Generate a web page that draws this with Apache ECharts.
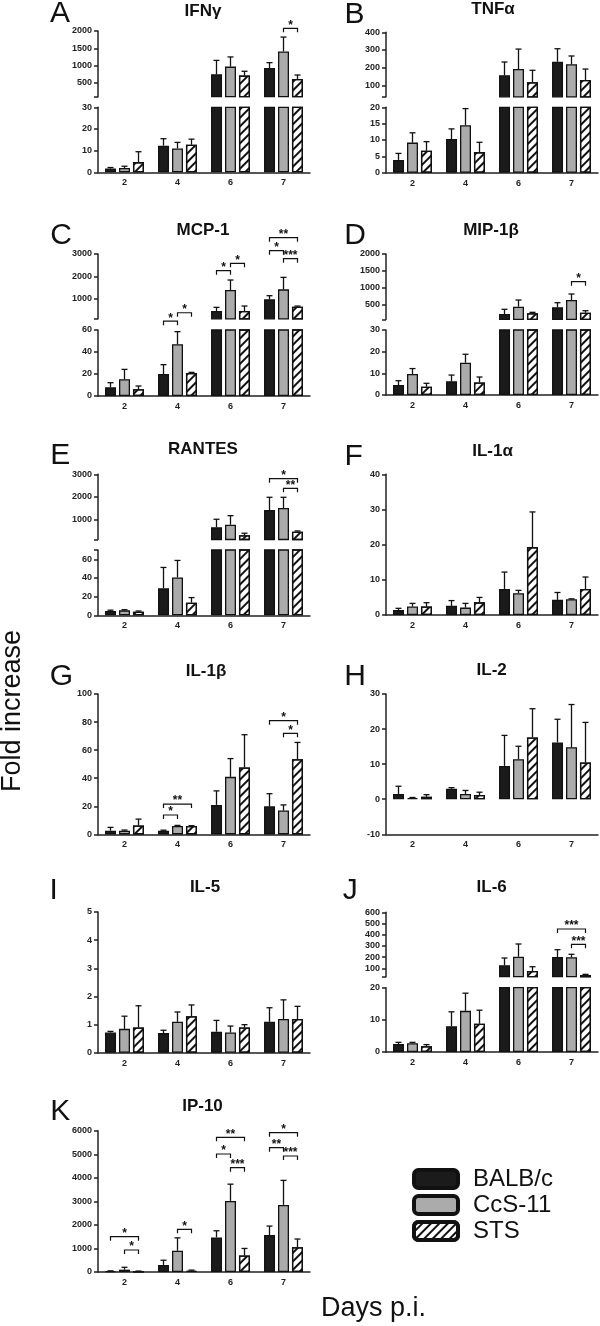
<!DOCTYPE html>
<html><head><meta charset="utf-8">
<script src="https://cdn.jsdelivr.net/npm/echarts@6/dist/echarts.min.js"></script>
<style>html,body{margin:0;padding:0;background:#fff}#c{width:600px;height:1326px}</style>
</head><body><div id="c"></div>
<script>
const days = ['2', '4', '6', '7'];
const groups = ['BALB/c', 'CcS-11', 'STS'];

// A IFNγ
const ifngBalb = [1.8, 12.3, 750, 930];
const ifngBalbSem = [0.4, 3.2, 400, 155];
const ifngCcs = [2.0, 11.0, 970, 1410];
const ifngCcsSem = [0.8, 2.8, 280, 415];
const ifngSts = [4.7, 12.7, 710, 612];
const ifngStsSem = [4.8, 2.6, 125, 115];
const ifngSig = [[3, 1, 2, 2078, 1]];
// B TNFα
const tnfBalb = [3.9, 10.3, 157, 233];
const tnfBalbSem = [2.0, 3.1, 75, 74];
const tnfCcs = [9.2, 14.5, 192, 219];
const tnfCcsSem = [3.0, 5.1, 113, 47];
const tnfSts = [6.7, 6.3, 117, 130];
const tnfStsSem = [2.8, 3.0, 68, 62];
const tnfSig = [];
// C MCP-1
const mcpBalb = [7.9, 20, 450, 970];
const mcpBalbSem = [4.2, 8.5, 162, 164];
const mcpCcs = [15.2, 47, 1388, 1418];
const mcpCcsSem = [9, 11.5, 448, 537];
const mcpSts = [6.1, 21, 448, 640];
const mcpStsSem = [3, 0.5, 224, 30];
const mcpSig = [[1, 0, 1, 68, 1], [1, 1, 2, 75.7, 1], [2, 0, 1, 2253, 1], [2, 1, 2, 2584, 1], [3, 0, 2, 3729, 2], [3, 0, 1, 3148, 1], [3, 1, 2, 2790, 3]];
// D MIP-1β
const mipBalb = [4.6, 6.3, 211, 411];
const mipBalbSem = [2.0, 2.9, 140, 137];
const mipCcs = [9.7, 14.9, 428, 628];
const mipCcsSem = [2.5, 3.9, 200, 179];
const mipSts = [3.8, 5.8, 232, 250];
const mipStsSem = [1.6, 2.5, 29, 59];
const mipSig = [[3, 1, 2, 1174, 1]];
// E RANTES
const ranBalb = [4.6, 28.9, 644, 1413];
const ranBalbSem = [0.9, 22.4, 356, 565];
const ranCcs = [5.3, 40.6, 760, 1502];
const ranCcsSem = [0.7, 18.2, 400, 476];
const ranSts = [3.9, 13.5, 289, 450];
const ranStsSem = [0.7, 5.5, 89, 30];
const ranSig = [[3, 0, 2, 2804, 1], [3, 1, 2, 2378, 2]];
// F IL-1α
const il1aBalb = [1.4, 2.6, 7.4, 4.3];
const il1aBalbSem = [0.5, 1.5, 4.8, 2.1];
const il1aCcs = [2.4, 2.1, 6.2, 4.5];
const il1aCcsSem = [0.9, 1.2, 0.8, 0.1];
const il1aSts = [2.4, 3.6, 19.3, 7.4];
const il1aStsSem = [1.1, 1.4, 10, 3.4];
const il1aSig = [];
// G IL-1β
const il1bBalb = [2.6, 2.6, 21, 20];
const il1bBalbSem = [2.4, 0.4, 10, 9];
const il1bCcs = [2.6, 6, 41, 17];
const il1bCcsSem = [0.5, 0.4, 13, 4];
const il1bSts = [6.4, 6, 47.6, 53.5];
const il1bStsSem = [4.5, 0.2, 23.4, 12];
const il1bSig = [[1, 0, 1, 13.8, 1], [1, 0, 2, 21.6, 2], [3, 0, 2, 81, 1], [3, 1, 2, 72, 1]];
// H IL-2
const il2Balb = [1.5, 3.0, 9.5, 16.2];
const il2BalbSem = [2.2, 0.3, 8.7, 6.6];
const il2Ccs = [0.3, 1.5, 11.4, 14.8];
const il2CcsSem = [0.2, 1.0, 3.7, 12.2];
const il2Sts = [0.7, 1.2, 17.6, 10.5];
const il2StsSem = [0.6, 0.8, 8.2, 11.4];
const il2Sig = [];
// I IL-5
const il5Balb = [0.72, 0.7, 0.75, 1.1];
const il5BalbSem = [0.04, 0.1, 0.4, 0.5];
const il5Ccs = [0.85, 1.1, 0.72, 1.2];
const il5CcsSem = [0.45, 0.35, 0.23, 0.68];
const il5Sts = [0.9, 1.3, 0.9, 1.2];
const il5StsSem = [0.77, 0.4, 0.1, 0.45];
const il5Sig = [];
// J IL-6
const il6Balb = [2.5, 8, 127, 201];
const il6BalbSem = [0.5, 4.5, 65, 65];
const il6Ccs = [2.7, 12.8, 204, 198];
const il6CcsSem = [0.3, 5.5, 113, 27];
const il6Sts = [1.8, 8.8, 76, 40];
const il6StsSem = [0.5, 4.2, 38, 6];
const il6Sig = [[3, 0, 2, 451, 3], [3, 1, 2, 314, 3]];
// K IP-10
const ipBalb = [30, 300, 1470, 1570];
const ipBalbSem = [20, 200, 280, 380];
const ipCcs = [100, 900, 3020, 2850];
const ipCcsSem = [100, 550, 710, 1040];
const ipSts = [20, 50, 700, 1050];
const ipStsSem = [20, 30, 300, 350];
const ipSig = [[0, 0, 2, 1499, 1], [0, 1, 2, 934, 1], [1, 1, 2, 1813, 1], [2, 0, 2, 5720, 2], [2, 0, 1, 5011, 1], [2, 1, 2, 4429, 3], [3, 0, 2, 5915, 1], [3, 0, 1, 5278, 2], [3, 1, 2, 4926, 3]];

const FONT = '"Liberation Sans", Arial, sans-serif';
const OFF = [-14, 0, 14];
const COLORS = ['#1b1b1b', '#ababab', '#ffffff'];
const hatch = { symbol: 'rect', symbolSize: 1, dashArrayX: [1, 0], dashArrayY: [2, 4], rotation: -Math.PI / 4, color: '#111' };

const panels = [
  { letter: 'A', title: 'IFNγ', col: 0, lx: 60, ly: 14, tx: 203, ty: 11, means: [ifngBalb, ifngCcs, ifngSts], sems: [ifngBalbSem, ifngCcsSem, ifngStsSem], sig: ifngSig,
    low: { top: 107.3, bottom: 172.3, min: 0, max: 30, interval: 10 },
    up: { top: 31, bottom: 96.7, min: 100, max: 2000, labels: [500, 1000, 1500, 2000] } },
  { letter: 'B', title: 'TNFα', col: 1, lx: 354.5, ly: 14.5, tx: 493, ty: 9, means: [tnfBalb, tnfCcs, tnfSts], sems: [tnfBalbSem, tnfCcsSem, tnfStsSem], sig: tnfSig,
    low: { top: 107.3, bottom: 172.7, min: 0, max: 20, interval: 5 },
    up: { top: 32.3, bottom: 96.8, min: 35, max: 400, labels: [100, 200, 300, 400] } },
  { letter: 'C', title: 'MCP-1', col: 0, lx: 61, ly: 236, tx: 203, ty: 230, means: [mcpBalb, mcpCcs, mcpSts], sems: [mcpBalbSem, mcpCcsSem, mcpStsSem], sig: mcpSig,
    low: { top: 330, bottom: 396, min: 0, max: 60, interval: 20 },
    up: { top: 254, bottom: 318.8, min: 100, max: 3000, labels: [1000, 2000, 3000] } },
  { letter: 'D', title: 'MIP-1β', col: 1, lx: 355, ly: 236, tx: 491, ty: 230, means: [mipBalb, mipCcs, mipSts], sems: [mipBalbSem, mipCcsSem, mipStsSem], sig: mipSig,
    low: { top: 330, bottom: 395, min: 0, max: 30, interval: 10 },
    up: { top: 254, bottom: 319.4, min: 50, max: 2000, labels: [500, 1000, 1500, 2000] } },
  { letter: 'E', title: 'RANTES', col: 0, lx: 60.3, ly: 456, tx: 203, ty: 449, means: [ranBalb, ranCcs, ranSts], sems: [ranBalbSem, ranCcsSem, ranStsSem], sig: ranSig,
    low: { top: 550, bottom: 615.3, min: 0, max: 70, labels: [0, 20, 40, 60] },
    up: { top: 474.3, bottom: 539.5, min: 100, max: 3000, labels: [1000, 2000, 3000] } },
  { letter: 'F', title: 'IL-1α', col: 1, lx: 353.7, ly: 456.7, tx: 492.5, ty: 451, means: [il1aBalb, il1aCcs, il1aSts], sems: [il1aBalbSem, il1aCcsSem, il1aStsSem], sig: il1aSig,
    low: { top: 474.3, bottom: 615, min: 0, max: 40, interval: 10 } },
  { letter: 'G', title: 'IL-1β', col: 0, lx: 61.3, ly: 676.7, tx: 206, ty: 671, means: [il1bBalb, il1bCcs, il1bSts], sems: [il1bBalbSem, il1bCcsSem, il1bStsSem], sig: il1bSig,
    low: { top: 694, bottom: 834.4, min: 0, max: 100, interval: 20 } },
  { letter: 'H', title: 'IL-2', col: 1, lx: 355, ly: 676.7, tx: 491.7, ty: 670, means: [il2Balb, il2Ccs, il2Sts], sems: [il2BalbSem, il2CcsSem, il2StsSem], sig: il2Sig,
    low: { top: 694, bottom: 834.3, min: -10, max: 30, interval: 10 } },
  { letter: 'I', title: 'IL-5', col: 0, lx: 53.7, ly: 890.8, tx: 205, ty: 887.5, means: [il5Balb, il5Ccs, il5Sts], sems: [il5BalbSem, il5CcsSem, il5StsSem], sig: il5Sig,
    low: { top: 912, bottom: 1052.8, min: 0, max: 5, interval: 1 } },
  { letter: 'J', title: 'IL-6', col: 1, lx: 350.3, ly: 890.8, tx: 491.7, ty: 887.5, means: [il6Balb, il6Ccs, il6Sts], sems: [il6BalbSem, il6CcsSem, il6StsSem], sig: il6Sig,
    low: { top: 987.7, bottom: 1052, min: 0, max: 20, interval: 10 },
    up: { top: 912.3, bottom: 976.7, min: 25, max: 600, labels: [100, 200, 300, 400, 500, 600] } },
  { letter: 'K', title: 'IP-10', col: 0, lx: 60.3, ly: 1111.7, tx: 202.5, ty: 1106, means: [ipBalb, ipCcs, ipSts], sems: [ipBalbSem, ipCcsSem, ipStsSem], sig: ipSig,
    low: { top: 1130.7, bottom: 1272, min: 0, max: 6000, interval: 1000 } }
];

const grids = [], xAxes = [], yAxes = [], series = [], graphics = [];
const axisColor = '#222';

function addSegment(p, seg, isLower) {
  const gi = grids.length;
  const left = p.col ? 386 : 98;
  const lowMax = p.low.max;
  const inSeg = v => (!p.up) ? true : (isLower ? v <= lowMax : v > lowMax);
  grids.push({ left: left, top: seg.top, width: 212, height: seg.bottom - seg.top });
  xAxes.push({
    gridIndex: gi, type: 'category', data: days, show: isLower,
    axisLine: { onZero: false, lineStyle: { color: axisColor, width: 1.5 } },
    axisTick: { alignWithLabel: true, length: 3, lineStyle: { color: axisColor, width: 1.5 } },
    axisLabel: { fontSize: 9, fontWeight: 'bold', color: axisColor, margin: 6, fontFamily: FONT }
  });
  const y = {
    gridIndex: gi, type: 'value', min: seg.min, max: seg.max, splitLine: { show: false },
    axisLine: { show: true, lineStyle: { color: axisColor, width: 1.5 } },
    axisTick: { show: true, length: 4, lineStyle: { color: axisColor, width: 1.5 } },
    axisLabel: { fontSize: 9, fontWeight: 'bold', color: axisColor, margin: 6, fontFamily: FONT, formatter: v => String(v) }
  };
  if (seg.interval) y.interval = seg.interval;
  if (seg.labels) {
    y.axisLabel.customValues = seg.labels;
    y.axisTick.customValues = [seg.min].concat(seg.labels).concat(seg.labels.indexOf(seg.max) < 0 ? [seg.max] : []);
  }
  yAxes.push(y);
  for (let k = 0; k < 3; k++) {
    const it = { color: COLORS[k], borderColor: '#111', borderWidth: 1.3 };
    if (k === 2) it.decal = hatch;
    series.push({
      type: 'bar', name: groups[k], xAxisIndex: gi, yAxisIndex: gi,
      data: p.means[k].map(v => (isLower || inSeg(v)) ? v : '-'),
      barWidth: 11, barGap: '27%', itemStyle: it, silent: true, animation: false
    });
  }
  const errData = [];
  for (let k = 0; k < 3; k++) {
    p.means[k].forEach((v, i) => { if (inSeg(v)) errData.push([i, v, p.sems[k][i], k]); });
  }
  series.push({
    type: 'custom', xAxisIndex: gi, yAxisIndex: gi, data: errData, silent: true, animation: false, z: 3,
    encode: { x: 0, y: 1 },
    renderItem: function (params, api) {
      const a = api.coord([api.value(0), api.value(1)]);
      const b = api.coord([api.value(0), api.value(1) + api.value(2)]);
      const x = a[0] + OFF[api.value(3)];
      const st = { stroke: '#111', lineWidth: 1.3 };
      return { type: 'group', children: [
        { type: 'line', shape: { x1: x, y1: a[1], x2: x, y2: b[1] }, style: st },
        { type: 'line', shape: { x1: x - 3, y1: b[1], x2: x + 3, y2: b[1] }, style: st }
      ] };
    }
  });
  const sigData = p.sig.filter(s => {
    const lowOK = p.means[s[1]][s[0]] <= lowMax && p.means[s[2]][s[0]] <= lowMax;
    return !p.up || (isLower ? lowOK : !lowOK);
  });
  if (sigData.length) {
    series.push({
      type: 'custom', xAxisIndex: gi, yAxisIndex: gi, data: sigData, silent: true, animation: false, z: 4,
      encode: { x: 0, y: 3 },
      renderItem: function (params, api) {
        const c = api.coord([api.value(0), api.value(3)]);
        const x1 = c[0] + OFF[api.value(1)], x2 = c[0] + OFF[api.value(2)], y0 = c[1];
        const stars = '*'.repeat(api.value(4));
        return { type: 'group', children: [
          { type: 'polyline', shape: { points: [[x1, y0 + 4], [x1, y0], [x2, y0], [x2, y0 + 4]] }, style: { stroke: '#111', lineWidth: 1.2, fill: null } },
          { type: 'text', x: (x1 + x2) / 2, y: y0 - 3, style: { text: stars, fontSize: 12, fontWeight: 'bold', fontFamily: FONT, fill: '#111', align: 'center', verticalAlign: 'middle' } }
        ] };
      }
    });
  }
}

panels.forEach(p => {
  addSegment(p, p.low, true);
  if (p.up) addSegment(p, p.up, false);
  graphics.push({ type: 'text', x: p.lx, y: p.ly, style: { text: p.letter, fontSize: 30, fontFamily: FONT, fill: '#111', align: 'center', verticalAlign: 'middle' } });
  graphics.push({ type: 'text', x: p.tx, y: p.ty, style: { text: p.title, fontSize: 17, fontWeight: 'bold', fontFamily: FONT, fill: '#111', align: 'center', verticalAlign: 'middle' } });
});
graphics.push({ type: 'text', x: 13, y: 711, rotation: Math.PI / 2, style: { text: 'Fold increase', fontSize: 27, fontFamily: FONT, fill: '#111', align: 'center', verticalAlign: 'middle' } });
graphics.push({ type: 'text', x: 321, y: 1309, style: { text: 'Days p.i.', fontSize: 27, fontFamily: FONT, fill: '#111', align: 'left', verticalAlign: 'middle' } });

const chart = echarts.init(document.getElementById('c'), null, { renderer: 'canvas' });
chart.setOption({
  animation: false,
  backgroundColor: '#fff',
  grid: grids, xAxis: xAxes, yAxis: yAxes, series: series, graphic: graphics,
  legend: {
    data: groups, orient: 'vertical', left: 407, top: 1162, itemWidth: 44, itemHeight: 18, itemGap: 2,
    icon: 'roundRect', selectedMode: false,
    itemStyle: { borderColor: '#111', borderWidth: 4 },
    textStyle: { fontSize: 24, fontFamily: FONT, color: '#111', lineHeight: 24, padding: [0, 0, 0, 10] }
  }
});
</script></body></html>
